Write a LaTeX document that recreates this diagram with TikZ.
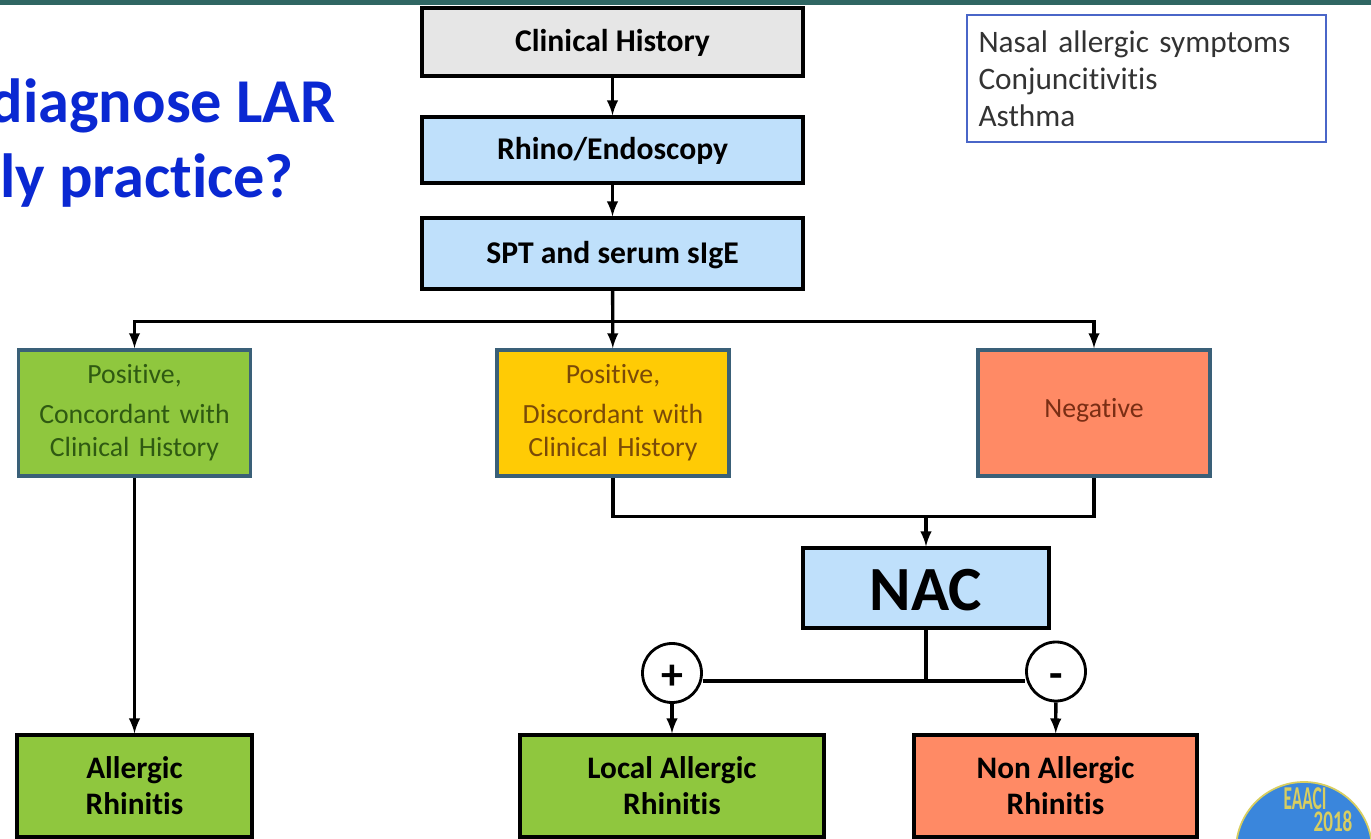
\documentclass[tikz,border=0pt]{standalone}
\usepackage{fontspec}
\setmainfont[Ligatures=NoCommon]{Carlito}
\usepackage{xcolor}
\usetikzlibrary{shapes,arrows}
\definecolor{barteal}{HTML}{2F6663}
\definecolor{titleblue}{HTML}{0A28D2}
\definecolor{boxblue}{HTML}{BFE0FB}
\definecolor{boxgrey}{HTML}{E6E6E6}
\definecolor{boxgreen}{HTML}{8FC73E}
\definecolor{boxyellow}{HTML}{FFCB05}
\definecolor{boxsalmon}{HTML}{FF8A65}
\definecolor{edgeblue}{HTML}{3A6078}
\definecolor{noteblue}{HTML}{4A66C8}
\definecolor{logoblue}{HTML}{3A86DC}
\definecolor{logoyellow}{HTML}{D8CE60}
\definecolor{textgreen}{HTML}{2F5A12}
\definecolor{textbrown}{HTML}{7A4A08}
\definecolor{textred}{HTML}{7A2E14}
\begin{document}
\begin{tikzpicture}
\tikzstyle{step box} = [draw=black,line width=1.8pt,minimum width=7.62cm,text depth=1.8pt,font=\fontsize{18}{21}\selectfont\bfseries];
\tikzstyle{result} = [draw=edgeblue,line width=2pt,minimum width=4.56cm,minimum height=2.52cm,text width=4.4cm,align=center,execute at begin node={\vspace*{3.6pt}},font=\fontsize{15.8}{19}\selectfont];
\tikzstyle{final} = [draw=black,line width=1.8pt,minimum height=2.04cm,align=center,font=\fontsize{17.8}{20.5}\selectfont\bfseries];
\tikzstyle{sign} = [draw=black,line width=1.6pt,fill=white,circle,minimum size=1.18cm,inner sep=0pt,font=\fontsize{25}{25}\selectfont\bfseries];
\tikzstyle{heading} = [anchor=base east,inner sep=0pt,text=titleblue,font=\fontsize{35.5}{35.5}\selectfont\bfseries];
\tikzstyle{logotext} = [text=logoyellow,inner sep=0pt];
\tikzstyle{line} = [line width=1.9pt];
\tikzstyle{arrow} = [line width=1.9pt,-latex];
\useasboundingbox (0,0) rectangle (27.42,16.76);
\fill[barteal] (0,16.66) rectangle (27.42,16.76);

\node [heading] (title1) at (6.72,14.3) {diagnose LAR};
\node [heading] (title2) at (5.88,12.8) {ly practice?};

\node [step box,fill=boxgrey,minimum height=1.36cm] (history) at (12.25,15.92) {Clinical History};
\node [step box,fill=boxblue,minimum height=1.32cm] (rhino) at (12.25,13.76) {Rhino/Endoscopy};
\node [step box,fill=boxblue,minimum height=1.42cm] (spt) at (12.25,11.69) {SPT and serum sIgE};
\node [draw=noteblue,line width=0.8pt,minimum width=7.18cm,minimum height=2.54cm,text width=6.72cm,align=left,font=\fontsize{17.8}{21}\selectfont,text=black!80] (note) at (22.93,15.19) {Nasal allergic symptoms\\Conjuncitivitis\\Asthma};

\node [result,fill=boxgreen,text=textgreen] (concordant) at (2.69,8.5) {Positive,\\Concordant with\\Clinical History};
\node [result,fill=boxyellow,text=textbrown] (discordant) at (12.26,8.5) {Positive,\\Discordant with\\Clinical History};
\node [result,fill=boxsalmon,text=textred] (negative) at (21.88,8.5) {Negative};

\node [draw=black,line width=1.8pt,fill=boxblue,minimum width=4.92cm,minimum height=1.6cm,text height=26pt,font=\fontsize{35.8}{36}\selectfont\bfseries] (nac) at (18.52,5) {NAC};
\coordinate (split) at (18.52,3.14);
\node [sign] (plus) at (13.44,3.3) {\smash{\raisebox{-0.37em}{+}}};
\node [sign] (minus) at (21.12,3.33) {\smash{\raisebox{-0.39em}{-}}};

\node [final,fill=boxgreen,minimum width=4.7cm] (allergic) at (2.69,1.04) {Allergic\\Rhinitis};
\node [final,fill=boxgreen,minimum width=6.08cm] (local) at (13.44,1.04) {Local Allergic\\Rhinitis};
\node [final,fill=boxsalmon,minimum width=5.66cm] (nonallergic) at (21.11,1.04) {Non Allergic\\Rhinitis};

\draw [arrow] (history) -- (rhino);
\draw [arrow] (rhino) -- (spt);
\draw [arrow] (spt) -- (discordant);
\draw [arrow] (spt.south) --++ (0,-0.62) -| (concordant.north);
\draw [arrow] (spt.south) --++ (0,-0.62) -| (negative.north);
\draw [arrow] (concordant) -- (allergic);
\draw [line] (discordant.south) --++ (0,-0.78) -| (negative.south);
\draw [arrow] (discordant.south) --++ (0,-0.78) -| (nac.north);
\draw [line] (plus.east |- split) -- (minus.west |- split);
\draw [line] (nac.south) -- (split);
\draw [arrow] (plus) -- (local);
\draw [arrow] (minus) -- (nonallergic);

% logo, cut by the page edge
\node [circle,draw=logoyellow,fill=logoblue,line width=1pt,minimum size=2.72cm] (logo) at (26.08,-0.24) {};
\node [logotext,xscale=0.52,font=\fontsize{19}{19}\selectfont\bfseries] (eaaci) at (26.1,0.78) {EAACI};
\node [logotext,xscale=0.64,font=\fontsize{17}{17}\selectfont\bfseries] (year) at (26.66,0.33) {2018};
\end{tikzpicture}
\end{document}
